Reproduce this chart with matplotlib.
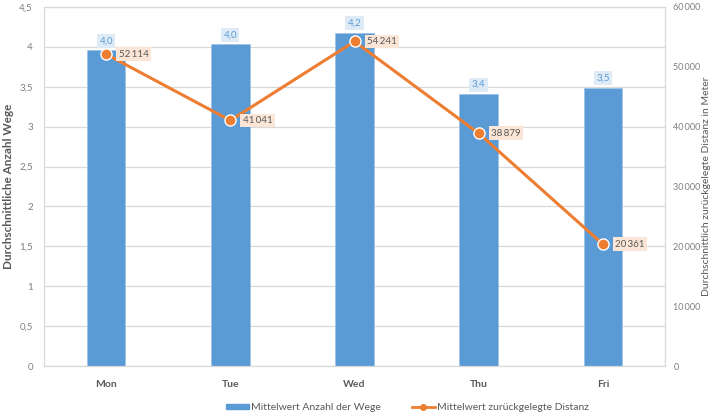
import matplotlib.pyplot as plt
import numpy as np
from matplotlib.ticker import FuncFormatter

plt.rcParams['font.family'] = ['Lato', 'DejaVu Sans']

days = ["Mon", "Tue", "Wed", "Thu", "Fri"]
avg_trips = [3.96, 4.03, 4.18, 3.41, 3.49]
avg_distance = [52114, 41041, 54241, 38879, 20361]

blue = "#5b9bd5"
orange = "#ed7d31"
grey = "#595959"
tick_grey = "#7f7f7f"
grid_grey = "#d9d9d9"

def de_num(v, dec=1):
    return f"{v:.{dec}f}".replace(".", ",")

def thousands(v, pos=None):
    return f"{int(round(v)):,}".replace(",", "\u2009")

fig = plt.figure(figsize=(7.12, 4.16), dpi=100)
ax = fig.add_axes([44/712, 1-366/416, (665-44)/712, (366-7)/416])
x = np.arange(len(days))

# BARS (LEFT AXIS)
ax.bar(x, avg_trips, width=0.31, color=blue, edgecolor="#9dc3e6", linewidth=0.6, zorder=2)
for xi, v in zip(x, avg_trips):
    ax.text(xi, v + 0.06, de_num(v), ha="center", va="bottom", fontsize=7, color=blue,
            bbox=dict(boxstyle="square,pad=0.25", fc="#deebf7", ec="none"), zorder=5)

ax.set_xlim(-0.5, 4.5)
ax.set_ylim(0, 4.5)
ax.set_yticks(np.arange(0, 4.51, 0.5))
ax.yaxis.set_major_formatter(FuncFormatter(lambda v, p: ("%g" % v).replace(".", ",")))
ax.set_xticks(x)
ax.set_xticklabels(days, fontweight="bold", color=grey, fontsize=7.5)
ax.tick_params(axis="y", colors=tick_grey, labelsize=7, length=0, pad=8)
ax.tick_params(axis="x", length=0, pad=10)
ax.grid(axis="y", color=grid_grey, linewidth=0.9, zorder=0)
ax.set_axisbelow(True)
for s in ax.spines.values():
    s.set_color(grid_grey)
ax.set_ylabel("Durchschnittliche Anzahl Wege", fontweight="bold", color=grey, fontsize=8.5)
ax.yaxis.set_label_coords(-30/621, 0.5)

# LINE (RIGHT AXIS)
ax2 = ax.twinx()
ax2.plot(x, avg_distance, color=orange, linewidth=2.2, marker="o", markersize=8,
         markerfacecolor=orange, markeredgecolor="white", markeredgewidth=1.0, zorder=4)
for xi, v in zip(x, avg_distance):
    ax2.annotate(thousands(v), (xi, v), xytext=(9, 0), textcoords="offset points",
                 ha="left", va="center", fontsize=7, color=grey,
                 bbox=dict(boxstyle="square,pad=0.25", fc="#fbe5d6", ec="none"), zorder=5)
ax2.set_ylim(0, 60000)
ax2.set_yticks(np.arange(0, 60001, 10000))
ax2.yaxis.set_major_formatter(FuncFormatter(thousands))
ax2.tick_params(axis="y", colors=tick_grey, labelsize=6.5, length=0, pad=6)
for s in ax2.spines.values():
    s.set_color(grid_grey)
ax2.set_ylabel("Durchschnittlich zurückgelegte Distanz in Meter", color=grey, fontsize=7.5,
               rotation=90, va="center")
ax2.yaxis.set_label_coords(1 + 41/621, 0.5)

# LEGEND
h1 = plt.Rectangle((0, 0), 1, 1, color=blue)
h2, = ax2.plot([], [], color=orange, linewidth=2, marker="o", markersize=4)
fig.legend([h1, h2], ["Mittelwert Anzahl der Wege", "Mittelwert zurückgelegte Distanz"],
           loc="center", bbox_to_anchor=(0.572, 0.02), ncol=2, frameon=False,
           fontsize=7.5, labelcolor=grey, handlelength=2.2, handleheight=0.5,
           handletextpad=0.2, columnspacing=3)

fig.savefig("out.png", dpi=100)
